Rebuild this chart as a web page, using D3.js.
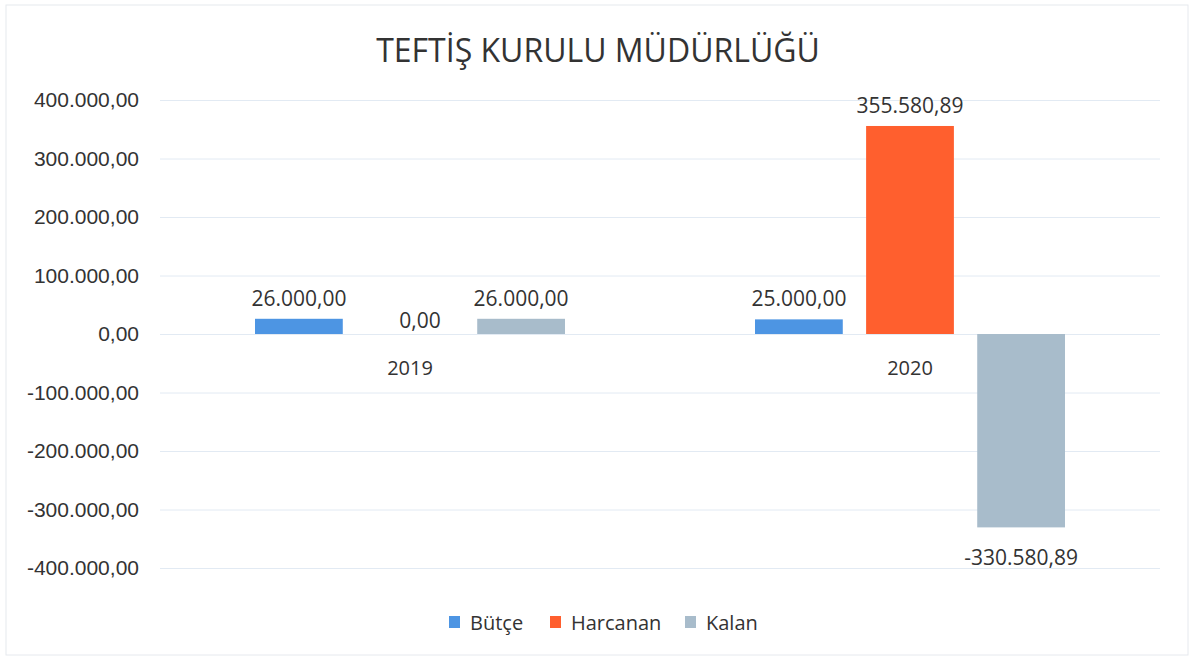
<!DOCTYPE html>
<html>
<head>
<meta charset="utf-8">
<script src="https://cdn.jsdelivr.net/npm/d3@7"></script>
<style>
  body { margin: 0; background: #fff; }
  svg { font-family: "Open Sans", Lato, sans-serif; }
</style>
</head>
<body>
<div id="chart"></div>
<script>
// data
const years = ["2019", "2020"];
const seriesNames = ["Bütçe", "Harcanan", "Kalan"];
const butce = [26000, 25000];
const harcanan = [0, 355580.89];
const kalan = [26000, -330580.89];
const yTicks = [400000, 300000, 200000, 100000, 0, -100000, -200000, -300000, -400000];
const colors = ["#4d95e3", "#ff5f2e", "#a8bccb"];

const W = 1194, H = 660;
const margin = {top: 100, right: 34, bottom: 92, left: 160};

const tr = d3.formatLocale({decimal: ",", thousands: ".", grouping: [3], currency: ["", ""], minus: "-"});
const fmt = tr.format(",.2f");

const svg = d3.select("#chart").append("svg")
    .attr("width", W)
    .attr("height", H);

// faint border
svg.append("rect")
    .attr("x", 6).attr("y", 5)
    .attr("width", W - 12).attr("height", H - 10)
    .attr("fill", "none")
    .attr("stroke", "#e6e9ee");

// title
svg.append("text")
    .attr("x", 598).attr("y", 62)
    .attr("text-anchor", "middle")
    .attr("font-size", 32)
    .attr("fill", "#333")
    .text("TEFTİŞ KURULU MÜDÜRLÜĞÜ");

const g = svg.append("g")
    .attr("transform", `translate(${margin.left},${margin.top})`);

const width = W - margin.left - margin.right;
const height = 568 - margin.top;

const x0 = d3.scaleBand().domain(years).range([0, width]).paddingInner(0.38).paddingOuter(0.19);
const x1 = d3.scaleBand().domain(seriesNames).range([0, x0.bandwidth()]).paddingInner(0.21);
const y = d3.scaleLinear().domain([-400000, 400000]).range([height, 0]);

// gridlines + y labels
const yAxis = g.append("g")
    .call(d3.axisLeft(y).tickValues(yTicks).tickSize(-width).tickFormat(fmt));
yAxis.select(".domain").remove();
yAxis.selectAll(".tick line").attr("stroke", "#e2eaf3");
yAxis.selectAll(".tick text")
    .attr("x", -21)
    .attr("font-size", 21)
    .attr("fill", "#333");

const rows = years.map((yr, i) => ({year: yr, values: [butce[i], harcanan[i], kalan[i]]}));

const groups = g.selectAll(".grp")
    .data(rows)
    .enter().append("g")
    .attr("class", "grp")
    .attr("transform", d => `translate(${x0(d.year)},0)`);

groups.selectAll("rect")
    .data(d => d.values.map((v, k) => ({name: seriesNames[k], value: v, k: k})))
    .enter().append("rect")
    .attr("x", d => x1(d.name))
    .attr("width", x1.bandwidth())
    .attr("y", d => y(Math.max(0, d.value)))
    .attr("height", d => Math.abs(y(d.value) - y(0)))
    .attr("fill", d => colors[d.k]);

// data labels
groups.selectAll(".lbl")
    .data(d => d.values.map((v, k) => ({name: seriesNames[k], value: v, k: k})))
    .enter().append("text")
    .attr("class", "lbl")
    .attr("x", d => x1(d.name) + x1.bandwidth() / 2 + (d.value === 0 ? 10 : 0))
    .attr("y", d => d.value < 0 ? y(d.value) + 38 : y(d.value) - (d.value === 0 ? 6 : 13))
    .attr("text-anchor", "middle")
    .attr("font-size", 21)
    .attr("fill", "#333")
    .text(d => fmt(d.value));

// category labels
g.selectAll(".cat")
    .data(years)
    .enter().append("text")
    .attr("class", "cat")
    .attr("x", d => x0(d) + x0.bandwidth() / 2)
    .attr("y", y(0) + 41)
    .attr("text-anchor", "middle")
    .attr("font-size", 20)
    .attr("fill", "#333")
    .text(d => d);

// legend
const legendX = [449, 550, 685];
const legend = svg.append("g");
seriesNames.forEach((n, i) => {
    legend.append("rect")
        .attr("x", legendX[i]).attr("y", 616)
        .attr("width", 11).attr("height", 12)
        .attr("fill", colors[i]);
    legend.append("text")
        .attr("x", legendX[i] + 21).attr("y", 630)
        .attr("font-size", 20)
        .attr("fill", "#333")
        .text(n);
});
</script>
</body>
</html>
